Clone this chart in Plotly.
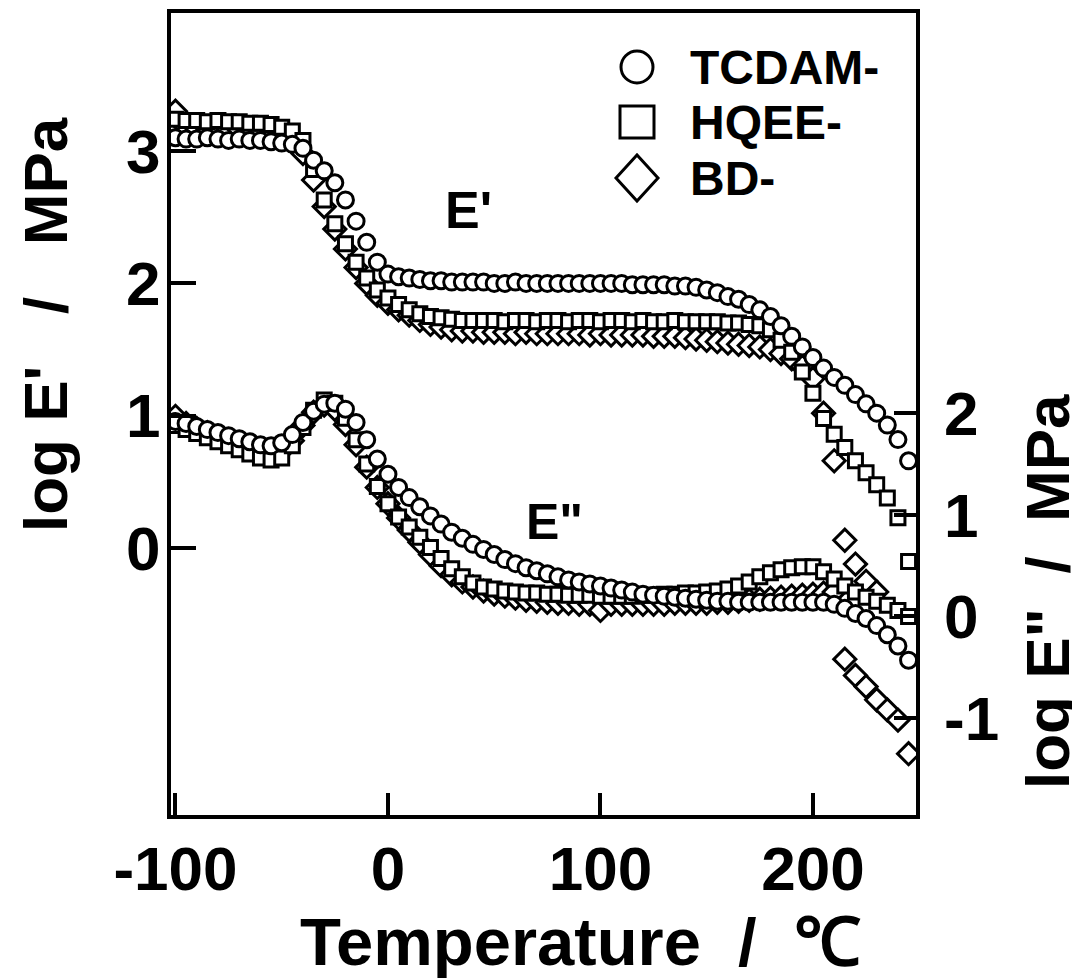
import plotly.graph_objects as go

# ---------------- data ----------------
temp_c = [-100, -95, -90, -85, -80, -75, -70, -65, -60, -55, -50, -45,
          -40, -35, -30, -25, -20, -15, -10, -5, 0,
          5, 10, 15, 20, 25, 30, 35, 40, 45, 50, 55, 60, 65, 70, 75, 80, 85, 90, 95, 100,
          105, 110, 115, 120, 125, 130, 135, 140, 145, 150, 155, 160, 165, 170, 175, 180,
          185, 190, 195, 200, 205, 210, 215, 220, 225, 230, 235, 240, 245]

# log E' (left axis)
tcdam_e1 = [3.10, 3.09, 3.09, 3.10, 3.09, 3.08, 3.09, 3.08, 3.08, 3.07, 3.06, 3.05,
            3.02, 2.93, 2.85, 2.76, 2.63, 2.47, 2.31, 2.16, 2.07,
            2.05, 2.04, 2.03, 2.02, 2.02, 2.01, 2.01, 2.01, 2.01, 2.00, 2.00, 2.01, 2.00, 2.00, 2.00, 2.00, 2.00, 2.00, 2.00, 2.00,
            2.00, 2.00, 1.99, 1.99, 1.99, 1.99, 1.98, 1.98, 1.97, 1.95, 1.93, 1.90, 1.88, 1.84, 1.80, 1.75,
            1.68, 1.60, 1.52, 1.44, 1.36, 1.29, 1.23, 1.16, 1.09, 1.02, 0.93, 0.82, 0.66]
hqee_e1 = [3.24, 3.23, 3.23, 3.22, 3.23, 3.22, 3.22, 3.21, 3.21, 3.20, 3.18, 3.15,
           3.08, 2.86, 2.63, 2.45, 2.30, 2.16, 2.04, 1.95, 1.89,
           1.84, 1.80, 1.77, 1.75, 1.74, 1.73, 1.72, 1.72, 1.72, 1.72, 1.71, 1.72, 1.72, 1.71, 1.72, 1.72, 1.71, 1.72, 1.72, 1.71,
           1.72, 1.72, 1.71, 1.72, 1.71, 1.71, 1.72, 1.71, 1.71, 1.71, 1.71, 1.70, 1.70, 1.69, 1.68, 1.65,
           1.57, 1.48, 1.33, 1.17, 0.98, 0.86, 0.76, 0.66, 0.57, 0.48, 0.38, 0.23, -0.10]
bd_e1 = [3.30, 3.18, 3.17, 3.17, 3.16, 3.16, 3.16, 3.15, 3.15, 3.14, 3.12, 3.08,
         2.98, 2.78, 2.58, 2.41, 2.26, 2.12, 2.00, 1.91, 1.85,
         1.80, 1.76, 1.72, 1.69, 1.67, 1.65, 1.64, 1.64, 1.63, 1.63, 1.63, 1.62, 1.63, 1.62, 1.62, 1.62, 1.62, 1.62, 1.61, 1.62,
         1.61, 1.61, 1.61, 1.61, 1.60, 1.60, 1.60, 1.59, 1.58, 1.57, 1.56, 1.55, 1.54, 1.53, 1.52, 1.50,
         1.47, 1.43, 1.37, 1.28, 1.02, 0.66, 0.06, -0.12, -0.25, -0.33, None, None, None]

# log E'' (right axis)
tcdam_e2 = [1.92, 1.90, 1.87, 1.84, 1.81, 1.78, 1.75, 1.72, 1.69, 1.68, 1.71, 1.79,
            1.91, 2.02, 2.09, 2.10, 2.04, 1.91, 1.74, 1.55, 1.40,
            1.27, 1.17, 1.08, 0.99, 0.91, 0.83, 0.77, 0.71, 0.66, 0.61, 0.56, 0.52, 0.48, 0.45, 0.42, 0.39, 0.36, 0.34, 0.32, 0.30,
            0.28, 0.26, 0.24, 0.22, 0.21, 0.20, 0.19, 0.18, 0.17, 0.16, 0.15, 0.15, 0.14, 0.14, 0.14, 0.14,
            0.14, 0.14, 0.14, 0.14, 0.14, 0.12, 0.08, 0.03, -0.02, -0.09, -0.18, -0.29, -0.43]
hqee_e2 = [1.88, 1.84, 1.80, 1.76, 1.72, 1.68, 1.64, 1.60, 1.56, 1.54, 1.56, 1.68,
           1.86, 2.03, 2.13, 2.10, 1.95, 1.74, 1.50, 1.28, 1.11,
           0.98, 0.88, 0.78, 0.68, 0.57, 0.47, 0.39, 0.33, 0.29, 0.27, 0.25, 0.24, 0.23, 0.23, 0.22, 0.22, 0.21, 0.21, 0.21, 0.20,
           0.20, 0.20, 0.20, 0.21, 0.21, 0.22, 0.22, 0.23, 0.23, 0.24, 0.25, 0.27, 0.30, 0.34, 0.39, 0.43,
           0.46, 0.48, 0.49, 0.49, 0.44, 0.37, 0.30, 0.24, 0.19, 0.15, 0.11, 0.06, 0.00]
bd_e2 = [1.97, 1.90, 1.85, 1.81, 1.77, 1.73, 1.69, 1.65, 1.62, 1.60, 1.63, 1.73,
         1.88, 2.01, 2.08, 2.04, 1.89, 1.69, 1.47, 1.27, 1.11,
         0.97, 0.85, 0.73, 0.61, 0.50, 0.41, 0.34, 0.29, 0.25, 0.22, 0.20, 0.18, 0.16, 0.15, 0.14, 0.13, 0.13, 0.12, 0.12, 0.06,
         0.12, 0.12, 0.12, 0.12, 0.12, 0.12, 0.13, 0.13, 0.13, 0.13, 0.14, 0.14, 0.15, 0.16, 0.17, 0.18,
         0.19, 0.20, 0.21, 0.22, 0.23, 0.24, -0.42, -0.58, -0.69, -0.82, -0.92, -1.02, -1.35]

x_ticks = [-100, 0, 100, 200]
x_tick_text = ["-100", "0", "100", "200"]
left_ticks = [0, 1, 2, 3]
left_tick_text = ["0", "1", "2", "3"]
right_ticks = [-1, 0, 1, 2]
right_tick_text = ["-1", "0", "1", "2"]
legend_names = ["TCDAM-", "HQEE-", "BD-"]

# ---------------- figure ----------------
FONT = "Liberation Sans, Arial, Helvetica, sans-serif"
W, H = 1080, 978
# the page body adds an 8 px offset; positions below are in the reference's pixels
OFF = 8
REF_L, REF_R, REF_T, REF_B = 171, 916, 13, 815
PW, PH = REF_R - REF_L, REF_B - REF_T
L, T = REF_L - OFF, REF_T - OFF
R, B = W - L - PW, H - T - PH


def px(xr):
    return (xr - REF_L) / PW


def py(yr):
    return (REF_B - yr) / PH


series = [
    ("BD-", "diamond", 17, bd_e1, bd_e2),
    ("HQEE-", "square", 14, hqee_e1, hqee_e2),
    ("TCDAM-", "circle", 16, tcdam_e1, tcdam_e2),
]

fig = go.Figure()
for name, sym, size, e1, e2 in series:
    mk = dict(symbol=sym, size=size, color="white", line=dict(color="black", width=3))
    fig.add_trace(go.Scatter(x=temp_c, y=e1, mode="markers", name=name + " E'",
                             marker=mk, yaxis="y", showlegend=False))
for name, sym, size, e1, e2 in series:
    mk = dict(symbol=sym, size=size, color="white", line=dict(color="black", width=3))
    fig.add_trace(go.Scatter(x=temp_c, y=e2, mode="markers", name=name + ' E"',
                             marker=mk, yaxis="y2", showlegend=False))

axis_common = dict(showgrid=False, zeroline=False, ticks="inside", tickwidth=4,
                   tickcolor="black", automargin=False,
                   tickfont=dict(family=FONT, size=62, color="black", weight="bold"))

fig.update_layout(
    width=W, height=H,
    margin=dict(l=L, r=R, t=T, b=B),
    paper_bgcolor="white", plot_bgcolor="white",
    font=dict(family=FONT, color="black", weight="bold"),
    showlegend=False,
    xaxis=dict(range=[-102.1, 248.5], tickvals=x_ticks, ticktext=x_tick_text, ticklen=22,
               showline=True, linewidth=4, linecolor="black", mirror=True,
               ticklabelstandoff=-3, **axis_common),
    yaxis=dict(range=[-2.015, 4.042], tickvals=left_ticks, ticktext=left_tick_text, ticklen=25,
               showline=True, linewidth=4, linecolor="black", mirror=True,
               ticklabelstandoff=-6, **axis_common),
    yaxis2=dict(range=[-1.954, 5.94], tickvals=right_ticks, ticktext=right_tick_text, ticklen=22,
                overlaying="y", side="right", showline=False,
                ticklabelstandoff=27, **axis_common),
)

# axis titles (placed as in the reference)
fig.add_annotation(x=px(580), y=py(902), xref="paper", yref="paper",
                   text="Temperature  /  ℃", showarrow=False,
                   xanchor="center", yanchor="top",
                   font=dict(family=FONT, size=67, weight="bold"))
fig.add_annotation(x=px(45), y=py(325), xref="paper", yref="paper",
                   text="log E'   /   MPa", showarrow=False, textangle=-90,
                   xanchor="center", yanchor="middle",
                   font=dict(family=FONT, size=62, weight="bold"))
fig.add_annotation(x=px(1047), y=py(592), xref="paper", yref="paper",
                   text='log E"  /  MPa', showarrow=False, textangle=-90,
                   xanchor="center", yanchor="middle",
                   font=dict(family=FONT, size=62, weight="bold"))

# curve labels
fig.add_annotation(x=px(468), y=py(210), xref="paper", yref="paper", text="E'",
                   showarrow=False, xanchor="center", yanchor="middle",
                   font=dict(family=FONT, size=52, weight="bold"))
fig.add_annotation(x=px(554), y=py(522), xref="paper", yref="paper", text='E"',
                   showarrow=False, xanchor="center", yanchor="middle",
                   font=dict(family=FONT, size=50, weight="bold"))

# legend drawn as shapes + text
sym_x = 637
rows_y = [67, 122, 178]
cx, cy = px(sym_x), py(rows_y[0])
r_x, r_y = 16 / PW, 16 / PH
fig.add_shape(type="circle", xref="paper", yref="paper",
              x0=cx - r_x, x1=cx + r_x, y0=cy - r_y, y1=cy + r_y,
              line=dict(color="black", width=3), fillcolor="white")
cx, cy = px(sym_x), py(rows_y[1])
s_x, s_y = 17 / PW, 16 / PH
fig.add_shape(type="rect", xref="paper", yref="paper",
              x0=cx - s_x, x1=cx + s_x, y0=cy - s_y, y1=cy + s_y,
              line=dict(color="black", width=3), fillcolor="white")
cx, cy = px(sym_x), py(rows_y[2])
d_x, d_y = 21 / PW, 23 / PH
fig.add_shape(type="path", xref="paper", yref="paper",
              path=f"M {cx - d_x} {cy} L {cx} {cy + d_y} L {cx + d_x} {cy} L {cx} {cy - d_y} Z",
              line=dict(color="black", width=3), fillcolor="white")
for name, ry in zip(legend_names, rows_y):
    fig.add_annotation(x=px(688), y=py(ry), xref="paper", yref="paper", text=name,
                       xanchor="left", yanchor="middle", showarrow=False,
                       font=dict(family=FONT, size=48, weight="bold"))

fig.write_html("out.html")
